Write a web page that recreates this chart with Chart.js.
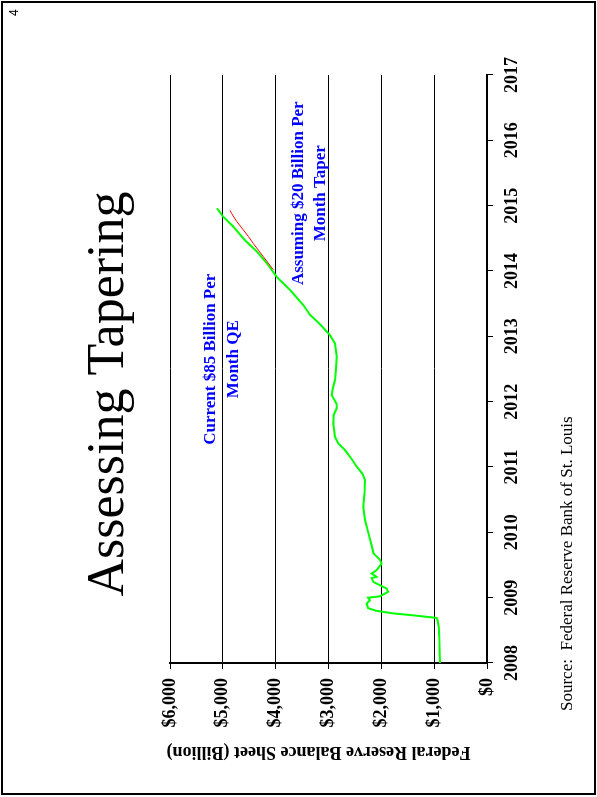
<!DOCTYPE html>
<html>
<head>
<meta charset="utf-8">
<script src="https://cdn.jsdelivr.net/npm/chart.js@4.4.0/dist/chart.umd.min.js"></script>
<style>
  body { margin: 0; background: #fff; }
  #frame { position: absolute; left: 1px; top: 1px; width: 595px; height: 794px; border: 2px solid #000; box-sizing: border-box; }
  /* the slide is drawn landscape, then turned a quarter to the left */
  #page { position: absolute; left: 0; top: 0; width: 797px; height: 597px; transform-origin: 0 0; transform: translate(0, 797px) rotate(-90deg); }
  #source { position: absolute; left: 86px; top: 557px; font: 17px 'Liberation Serif'; white-space: pre; }
  #pageNum { position: absolute; left: 781px; top: 7px; font: 12px 'Liberation Sans'; }
</style>
</head>
<body>
<div id="frame"></div>
<div id="page">
  <canvas id="chart" width="797" height="597"></canvas>
  <div id="source">Source:  Federal Reserve Bank of St. Louis</div>
  <div id="pageNum">4</div>
</div>
<script>
// --- data ---
const years = [2008, 2009, 2010, 2011, 2012, 2013, 2014, 2015, 2016, 2017];
const dollarTicks = [0, 1000, 2000, 3000, 4000, 5000, 6000];

// Fed balance sheet incl. $85B/month QE projection (green)
const qeDates = [2008.00, 2008.10, 2008.25, 2008.40, 2008.55, 2008.66, 2008.69, 2008.73, 2008.76, 2008.80,
  2008.84, 2008.91, 2008.96, 2009.00, 2009.02, 2009.09, 2009.14, 2009.19, 2009.24, 2009.30,
  2009.32, 2009.37, 2009.42, 2009.52, 2009.58, 2009.68, 2009.81, 2009.99, 2010.19, 2010.39,
  2010.60, 2010.80, 2010.90, 2011.00, 2011.13, 2011.26, 2011.36, 2011.46, 2011.67, 2011.80,
  2011.90, 2011.97, 2012.10, 2012.20, 2012.33, 2012.50, 2012.69, 2012.89, 2013.02, 2013.20,
  2013.33, 2013.48, 2013.71, 2013.91, 2014.12, 2014.30, 2014.47, 2014.68, 2014.83, 2014.96];
const qeValues = [890, 895, 900, 905, 915, 935, 955, 1400, 1780, 2100,
  2250, 2277, 2215, 2250, 2030, 1870, 1900, 2025, 2150, 2185,
  2090, 2185, 2090, 1995, 2025, 2150, 2185, 2245, 2310, 2340,
  2320, 2310, 2360, 2460, 2570, 2690, 2815, 2877, 2910, 2900,
  2845, 2850, 2940, 2920, 2877, 2860, 2845, 2877, 2972, 3180,
  3350, 3477, 3729, 3981, 4170, 4359, 4581, 4802, 4991, 5110];

// $20B/month taper projection (red)
const taperDates = [2014.02, 2014.12, 2014.22, 2014.32, 2014.42, 2014.53, 2014.63, 2014.76, 2014.88, 2014.93];
const taperValues = [4045, 4139, 4234, 4328, 4423, 4518, 4613, 4738, 4833, 4865];

const mainTitle = 'Assessing Tapering';
const axisTitle = 'Federal Reserve Balance Sheet (Billion)';
const notes = [
  { text: 'Current $85 Billion Per', x: 2012.65, y: 5224 },
  { text: 'Month QE', x: 2012.65, y: 4789 },
  { text: 'Assuming $20 Billion Per', x: 2015.19, y: 3558 },
  { text: 'Month Taper', x: 2015.19, y: 3142 }
];

const serif = 'Liberation Serif';
Chart.defaults.font.family = serif;
Chart.defaults.color = '#000';

const textPlugin = {
  id: 'slideText',
  afterDraw(chart) {
    const { ctx, chartArea, scales } = chart;
    ctx.save();
    ctx.fillStyle = '#000';
    ctx.textAlign = 'center';
    ctx.font = '52px "' + serif + '"';
    ctx.textBaseline = 'alphabetic';
    ctx.fillText(mainTitle, 403, 123);

    ctx.font = 'bold 18px "' + serif + '"';
    ctx.textBaseline = 'middle';
    ctx.translate(chartArea.left - 89, (chartArea.top + chartArea.bottom) / 2 - 10);
    ctx.rotate(-Math.PI / 2);
    ctx.fillText(axisTitle, 0, 0);
    ctx.restore();

    ctx.save();
    ctx.fillStyle = '#0000ff';
    ctx.font = 'bold 17px "' + serif + '"';
    ctx.textAlign = 'center';
    ctx.textBaseline = 'middle';
    notes.forEach(n => {
      ctx.fillText(n.text, scales.x.getPixelForValue(n.x), scales.y.getPixelForValue(n.y));
    });
    ctx.restore();
  }
};

new Chart(document.getElementById('chart'), {
  type: 'line',
  data: {
    datasets: [{
      data: qeDates.map((d, i) => ({ x: d, y: qeValues[i] })),
      borderColor: '#00ff00',
      borderWidth: 2,
      pointRadius: 0,
      tension: 0,
      order: 1
    }, {
      data: taperDates.map((d, i) => ({ x: d, y: taperValues[i] })),
      borderColor: '#ff0000',
      borderWidth: 1,
      pointRadius: 0,
      tension: 0,
      order: 0
    }]
  },
  options: {
    responsive: false,
    animation: false,
    layout: { padding: { left: 0, right: 75, top: 170, bottom: 0 } },
    plugins: {
      legend: { display: false },
      tooltip: { enabled: false },
      title: { display: false }
    },
    scales: {
      x: {
        type: 'linear',
        min: 2008,
        max: 2017,
        afterBuildTicks: s => { s.ticks = years.map(v => ({ value: v })); },
        afterFit: s => { s.height = 110; },
        grid: { drawOnChartArea: false, tickLength: 6, color: '#000' },
        border: { color: '#000', width: 2 },
        ticks: {
          padding: 9,
          maxRotation: 0,
          font: { family: serif, size: 18, weight: 'bold' },
          callback: v => String(v)
        }
      },
      y: {
        min: 0,
        max: 6000,
        afterBuildTicks: s => { s.ticks = dollarTicks.map(v => ({ value: v })); },
        afterFit: s => { s.width = 134; },
        grid: { color: '#000', lineWidth: 1, tickLength: 6 },
        border: { color: '#000', width: 2 },
        ticks: {
          padding: 9,
          font: { family: serif, size: 18, weight: 'bold' },
          callback: v => '$' + v.toLocaleString('en-US')
        }
      }
    }
  },
  plugins: [textPlugin]
});
</script>
</body>
</html>
